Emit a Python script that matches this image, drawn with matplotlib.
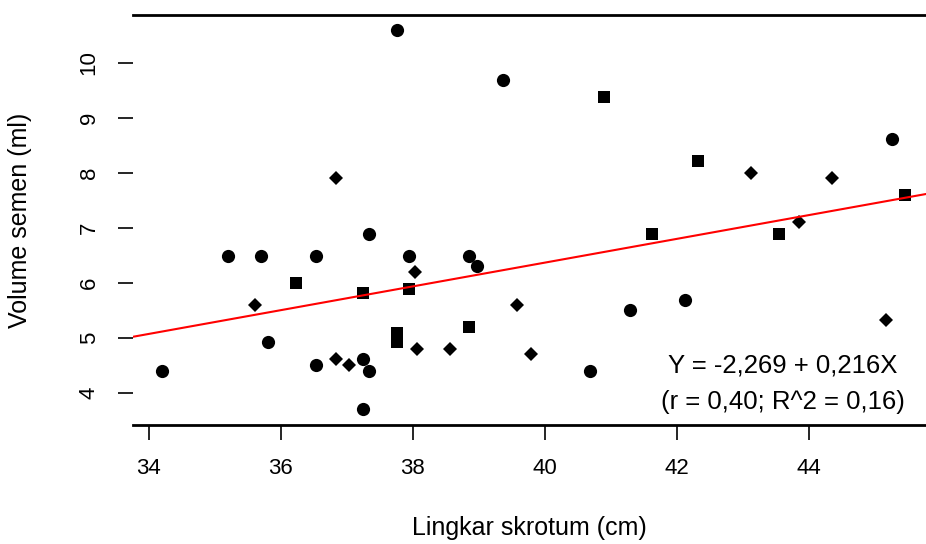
import matplotlib
matplotlib.use("Agg")
import numpy as np
import matplotlib.pyplot as plt

plt.rcParams['font.family'] = ['Liberation Sans', 'DejaVu Sans']

# lingkar skrotum (cm) vs volume semen (ml), three groups by marker
circle_x = [34.2, 35.2, 35.7, 35.8, 36.53, 36.53, 37.33, 37.24, 37.24, 37.33,
            37.76, 37.94, 38.85, 38.97, 39.36, 40.68, 41.29, 42.12, 45.26]
circle_y = [4.4, 6.49, 6.49, 4.93, 6.49, 4.51, 6.89, 3.71, 4.62, 4.4,
            10.6, 6.49, 6.49, 6.31, 9.69, 4.4, 5.51, 5.69, 8.62]

square_x = [36.23, 37.24, 37.76, 37.76, 37.94, 38.85, 40.89, 42.32, 41.62, 43.55, 45.45]
square_y = [6.0, 5.82, 5.09, 4.93, 5.89, 5.2, 9.38, 8.22, 6.89, 6.89, 7.6]

diamond_x = [35.61, 36.83, 36.83, 37.03, 38.03, 38.06, 38.56, 39.58, 39.79,
             43.12, 43.85, 44.35, 45.17]
diamond_y = [5.6, 7.91, 4.62, 4.51, 6.2, 4.8, 4.8, 5.6, 4.71,
             8.0, 7.11, 7.91, 5.33]

intercept = -2.269
slope = 0.216
eq_text = "Y = -2,269 + 0,216X"
r_text = "(r = 0,40; R^2 = 0,16)"

x_ticks = [34, 36, 38, 40, 42, 44]
y_ticks = [4, 5, 6, 7, 8, 9, 10]

W, H = 926, 544
fig = plt.figure(figsize=(W / 100, H / 100), dpi=100)
ax = fig.add_axes([133 / W, (H - 425) / H, (926 - 133) / W, (425 - 15) / H])

ax.plot(circle_x, circle_y, 'o', color='black', ms=9.5, mew=0)
ax.plot(square_x, square_y, 's', color='black', ms=8, mew=0)
ax.plot(diamond_x, diamond_y, 'D', color='black', ms=7.5, mew=0)

xlim = (33.76, 45.77)
xs = np.array(xlim)
ax.plot(xs, intercept + slope * xs, color='red', lw=1.5)

ax.text(43.6, 4.5, eq_text, ha='center', va='center', fontsize=18.5)
ax.text(43.6, 3.84, r_text, ha='center', va='center', fontsize=18.5)

ax.set_xlim(*xlim)
ax.set_ylim(3.42, 10.87)
ax.set_xticks(x_ticks)
ax.set_yticks(y_ticks)
ax.tick_params(axis='both', labelsize=16, length=11, width=1.2, pad=13)
ax.tick_params(axis='y', labelrotation=90)
for lab in ax.get_yticklabels():
    lab.set_va('center')

ax.spines['left'].set_visible(False)
ax.spines['right'].set_visible(False)
ax.spines['top'].set_linewidth(2)
ax.spines['bottom'].set_linewidth(2)

ax.set_xlabel("Lingkar skrotum (cm)", fontsize=18)
ax.set_ylabel("Volume semen (ml)", fontsize=18)
ax.xaxis.set_label_coords(0.5, -0.222)
ax.yaxis.set_label_coords(-0.127, 0.5)

fig.savefig("out.png", dpi=100)
